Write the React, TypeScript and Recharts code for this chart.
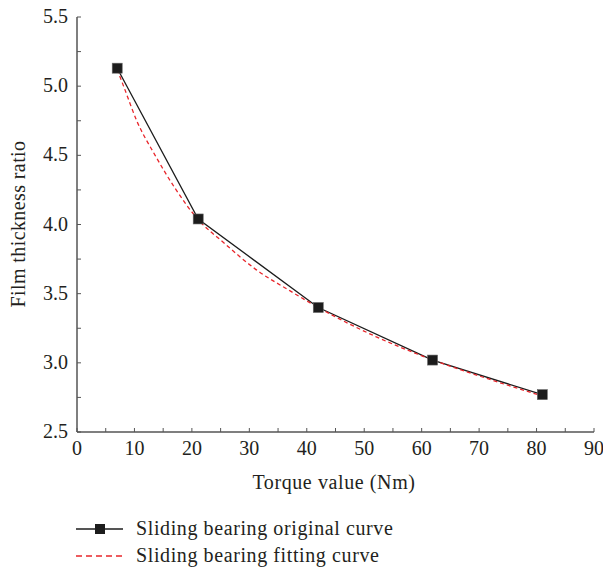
import { LineChart, Line, XAxis, YAxis } from "recharts";

const torque = [7, 21.1, 42, 61.9, 81];
const filmRatio = [5.13, 4.04, 3.4, 3.02, 2.77];

const fitTorque = [7, 8.2, 10.4, 13.6, 17.1, 21, 25.5, 31.3, 37.1, 42, 52, 62, 71.5, 81];
const fitRatio = [5.12, 4.99, 4.75, 4.5, 4.26, 4.04, 3.87, 3.67, 3.52, 3.4, 3.19, 3.02, 2.885, 2.76];

const xTicks = [0, 5, 10, 15, 20, 25, 30, 35, 40, 45, 50, 55, 60, 65, 70, 75, 80, 85, 90];
const yTicks = [2.5, 2.75, 3, 3.25, 3.5, 3.75, 4, 4.25, 4.5, 4.75, 5, 5.25, 5.5];

const seriesNames = ["Sliding bearing original curve", "Sliding bearing fitting curve"];

const original = torque.map((t, i) => ({ t, v: filmRatio[i] }));
const fitted = fitTorque.map((t, i) => ({ t, v: fitRatio[i] }));

const FONT = '"Liberation Serif", "DejaVu Serif", serif';
const TEXT = "#231f20";
const AXIS = "#555555";
const RED = "#e8262b";

function XTick({ x, y, payload }: any) {
  const v = payload.value;
  return (
    <g>
      <line x1={x} x2={x} y1={y} y2={y - 4} stroke={AXIS} strokeWidth={1} />
      {v % 10 === 0 && (
        <text x={x} y={y + 23} textAnchor="middle" fontFamily={FONT} fontSize={20} fill={TEXT}>
          {v}
        </text>
      )}
    </g>
  );
}

function YTick({ x, y, payload }: any) {
  const v = payload.value;
  const major = Math.abs(v * 2 - Math.round(v * 2)) < 1e-6;
  return (
    <g>
      <line x1={x} x2={x + 4} y1={y} y2={y} stroke={AXIS} strokeWidth={1} />
      {major && (
        <text x={x - 9} y={y + 6} textAnchor="end" fontFamily={FONT} fontSize={20} fill={TEXT}>
          {v.toFixed(1)}
        </text>
      )}
    </g>
  );
}

function SquareDot({ cx, cy }: any) {
  return <rect x={cx - 5} y={cy - 5} width={10} height={10} fill="#1c1c1c" stroke="#666" strokeWidth={0.6} />;
}

export default function App() {
  return (
    <div style={{ position: "relative", width: 603, height: 568, background: "#fff" }}>
      <style>{"body{margin:0}"}</style>
      <LineChart width={603} height={568} margin={{ top: 17, right: 9, left: 0, bottom: 76 }}>
        <XAxis
          dataKey="t"
          type="number"
          domain={[0, 90]}
          ticks={xTicks}
          interval={0}
          tickSize={0}
          tickMargin={0}
          tick={<XTick />}
          stroke={AXIS}
          strokeWidth={1.5}
          height={60}
          label={{
            content: () => (
              <text x={334} y={489} textAnchor="middle" fontFamily={FONT} fontSize={20} letterSpacing={0.6} fill={TEXT}>
                Torque value (Nm)
              </text>
            ),
          }}
        />
        <YAxis
          dataKey="v"
          type="number"
          domain={[2.5, 5.5]}
          ticks={yTicks}
          interval={0}
          tickSize={0}
          tickMargin={0}
          tick={<YTick />}
          stroke={AXIS}
          strokeWidth={1.5}
          width={77}
          label={{
            content: () => (
              <text
                x={25}
                y={224}
                transform="rotate(-90 25 224)"
                textAnchor="middle"
                fontFamily={FONT}
                fontSize={20}
                letterSpacing={0.4}
                fill={TEXT}
              >
                Film thickness ratio
              </text>
            ),
          }}
        />
        <Line
          data={original}
          dataKey="v"
          type="linear"
          stroke="#1c1c1c"
          strokeWidth={1.3}
          dot={<SquareDot />}
          activeDot={false}
          isAnimationActive={false}
        />
        <Line
          data={fitted}
          dataKey="v"
          type="monotone"
          stroke={RED}
          strokeWidth={1.3}
          strokeDasharray="4 3"
          dot={false}
          activeDot={false}
          isAnimationActive={false}
        />
      </LineChart>
      <div
        style={{
          position: "absolute",
          left: 76,
          top: 515,
          fontFamily: FONT,
          fontSize: 20,
          letterSpacing: 0.6,
          color: TEXT,
          lineHeight: "27px",
        }}
      >
        <div style={{ display: "flex", alignItems: "center", height: 27 }}>
          <svg width={48} height={27}>
            <line x1={0} x2={47} y1={14} y2={14} stroke="#1c1c1c" strokeWidth={1.3} />
            <rect x={19} y={9} width={10} height={10} fill="#1c1c1c" />
          </svg>
          <span style={{ marginLeft: 12 }}>{seriesNames[0]}</span>
        </div>
        <div style={{ display: "flex", alignItems: "center", height: 27 }}>
          <svg width={48} height={27}>
            <line x1={0} x2={47} y1={14} y2={14} stroke={RED} strokeWidth={1.3} strokeDasharray="6 4" />
          </svg>
          <span style={{ marginLeft: 12 }}>{seriesNames[1]}</span>
        </div>
      </div>
    </div>
  );
}
